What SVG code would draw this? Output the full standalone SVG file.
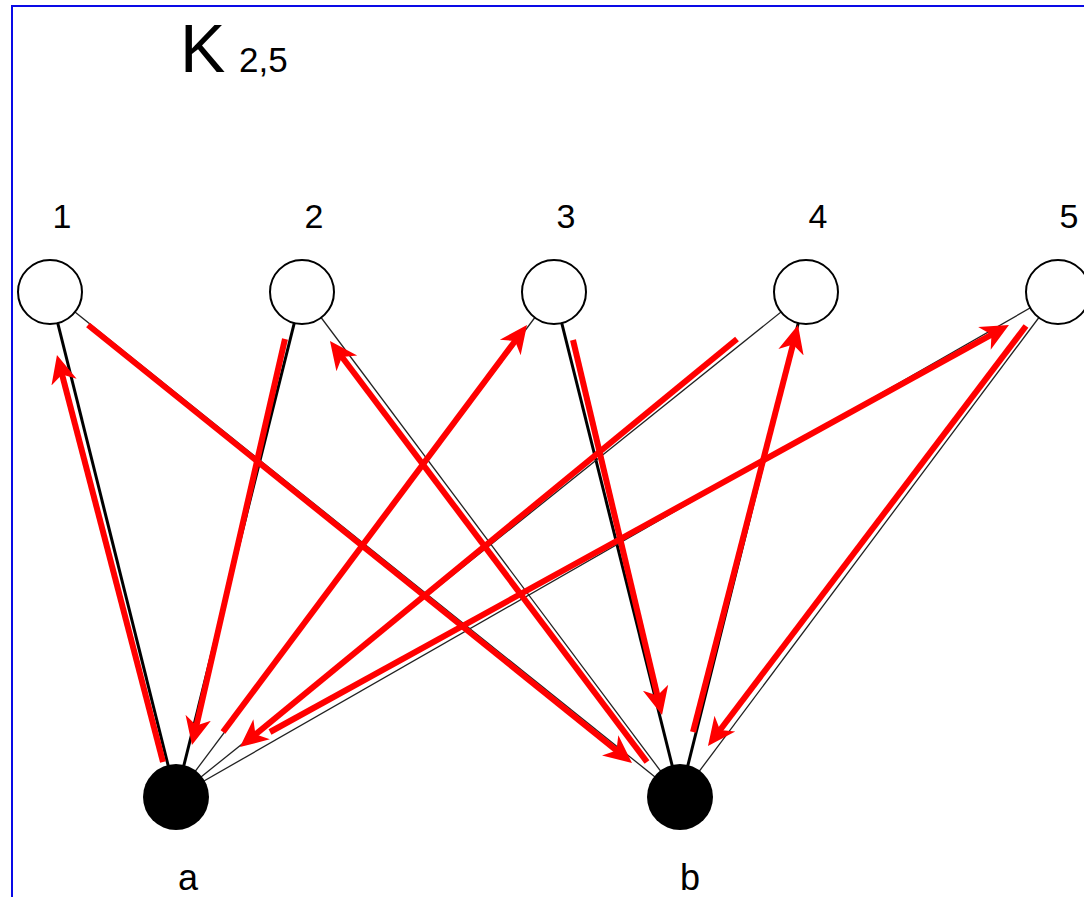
<svg xmlns="http://www.w3.org/2000/svg" width="1084" height="897" viewBox="0 0 1084 897">
<style>
.lbl{font-family:"Liberation Sans",Arial,sans-serif;fill:#000}
.thick{stroke:#000;stroke-width:3;fill:none}
.thin{stroke:#222;stroke-width:1.3;fill:none}
.red{stroke:#ff0000;stroke-width:6;fill:none;marker-end:url(#ah)}
.open{fill:#fff;stroke:#000;stroke-width:2}
.full{fill:#000}
</style>
<defs>
<marker id="ah" viewBox="0 -14 28 28" refX="18" refY="0" markerUnits="userSpaceOnUse" markerWidth="28" markerHeight="28" orient="auto">
<path d="M28,0 L0,-13 L8,0 L0,13 z" fill="#ff0000"/>
</marker>
</defs>
<rect x="0" y="0" width="1084" height="897" fill="#fff"/>
<rect x="12" y="6" width="1200" height="1000" fill="none" stroke="#0a0ae6" stroke-width="2"/>
<g id="title">
<text class="lbl" x="180" y="72" font-size="68">K</text>
<text class="lbl" x="239" y="72" font-size="35">2,5</text>
</g>
<g id="edges">
<line class="thick" x1="50" y1="292" x2="176" y2="797"/>
<line class="thin" x1="50" y1="292" x2="680" y2="797"/>
<line class="thick" x1="302" y1="292" x2="176" y2="797"/>
<line class="thin" x1="302" y1="292" x2="680" y2="797"/>
<line class="thin" x1="554" y1="292" x2="176" y2="797"/>
<line class="thick" x1="554" y1="292" x2="680" y2="797"/>
<line class="thin" x1="806" y1="292" x2="176" y2="797"/>
<line class="thick" x1="806" y1="292" x2="680" y2="797"/>
<line class="thin" x1="1058" y1="292" x2="176" y2="797"/>
<line class="thin" x1="1058" y1="292" x2="680" y2="797"/>
</g>
<g id="arrows">
<line class="red" x1="163" y1="762" x2="59.5" y2="364.7"/>
<line class="red" x1="88" y1="325" x2="624.2" y2="756.7"/>
<line class="red" x1="285" y1="339" x2="194.2" y2="735.3"/>
<line class="red" x1="647" y1="762" x2="336" y2="349"/>
<line class="red" x1="223" y1="732" x2="521" y2="333"/>
<line class="red" x1="573" y1="340" x2="659.7" y2="705.3"/>
<line class="red" x1="737" y1="339" x2="247.7" y2="740.7"/>
<line class="red" x1="693" y1="732" x2="795.5" y2="334.7"/>
<line class="red" x1="270" y1="732" x2="1000.2" y2="329.8"/>
<line class="red" x1="1026" y1="326" x2="714" y2="738"/>
</g>
<g id="node1"><circle class="open" cx="50" cy="292" r="32"/><text class="lbl" x="62" y="228" font-size="34" text-anchor="middle">1</text></g>
<g id="node2"><circle class="open" cx="302" cy="292" r="32"/><text class="lbl" x="314" y="228" font-size="34" text-anchor="middle">2</text></g>
<g id="node3"><circle class="open" cx="554" cy="292" r="32"/><text class="lbl" x="566" y="228" font-size="34" text-anchor="middle">3</text></g>
<g id="node4"><circle class="open" cx="806" cy="292" r="32"/><text class="lbl" x="818" y="228" font-size="34" text-anchor="middle">4</text></g>
<g id="node5"><circle class="open" cx="1058" cy="292" r="32"/><text class="lbl" x="1069" y="228" font-size="34" text-anchor="middle">5</text></g>
<g id="nodeA"><circle class="full" cx="176" cy="797" r="33"/><text class="lbl" x="188" y="890" font-size="36" text-anchor="middle">a</text></g>
<g id="nodeB"><circle class="full" cx="680" cy="797" r="33"/><text class="lbl" x="690" y="890" font-size="36" text-anchor="middle">b</text></g>
</svg>
